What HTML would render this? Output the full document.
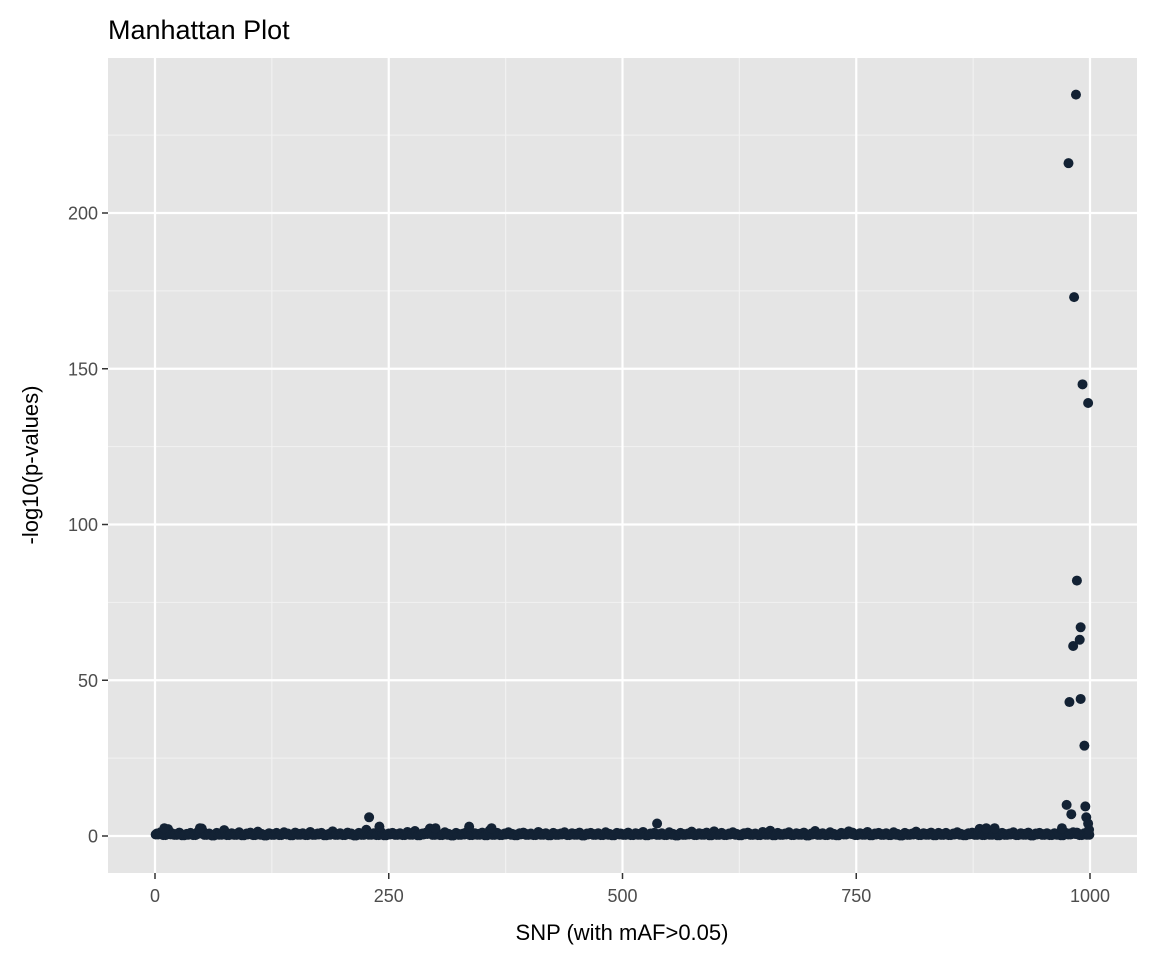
<!DOCTYPE html>
<html><head><meta charset="utf-8"><style>
body{margin:0;background:#fff;}
svg text{font-family:"Liberation Sans",Arial,sans-serif;}
</style></head><body>
<svg id="chart" width="1152" height="960" xmlns="http://www.w3.org/2000/svg">
<text x="108" y="39" font-size="27" fill="#000">Manhattan Plot</text>
<rect x="108" y="58" width="1029" height="815" fill="#e5e5e5"/>
<g id="grid"></g>
<g id="points"></g>
<g id="axes"></g>
<text x="622" y="940" font-size="22" text-anchor="middle" fill="#000">SNP (with mAF&gt;0.05)</text>
<text transform="translate(38,465) rotate(-90)" font-size="22" text-anchor="middle" fill="#000">-log10(p-values)</text>
</svg>
<script>
const xTicks=[0,250,500,750,1000];
const yTicks=[0,50,100,150,200];
const baseline=[0.8,1.2,0.5,2.2,0.9,0.6,1.1,0.4,0.7,1.0,0.5,1.3,2.4,0.6,0.8,0.3,1.0,0.7,1.9,0.5,0.9,0.6,1.2,0.4,0.8,1.1,0.5,1.4,0.7,0.3,
0.9,0.6,1.0,0.5,1.2,0.8,0.4,1.1,0.7,0.9,0.5,1.3,0.6,0.8,1.0,0.4,0.7,1.5,0.6,0.9,0.5,1.1,0.8,0.3,1.0,0.6,2.0,0.7,0.9,0.5,
1.2,0.4,0.8,1.0,0.6,0.9,0.5,1.3,0.7,1.6,0.4,0.8,1.1,2.4,0.6,0.9,0.5,1.2,0.7,0.3,1.0,0.6,0.8,1.4,0.5,0.9,0.7,1.1,0.4,1.8,
0.6,1.0,0.5,0.8,1.2,0.7,0.4,0.9,1.1,0.6,0.8,0.5,1.3,0.7,0.9,0.4,1.0,0.6,0.8,1.2,0.5,0.9,0.7,1.1,0.3,0.8,1.0,0.6,0.9,0.5,
1.2,0.7,0.4,1.0,0.8,0.6,1.1,0.5,0.9,0.7,1.3,0.4,0.8,1.0,0.6,0.9,0.5,1.2,0.7,0.3,1.0,0.6,0.8,1.4,0.5,0.9,0.7,1.1,0.4,1.5,
0.6,1.0,0.5,0.8,1.2,0.7,0.4,0.9,1.1,0.6,0.8,0.5,1.3,0.7,1.7,0.4,1.0,0.6,0.8,1.2,0.5,0.9,0.7,1.1,0.3,0.8,1.6,0.6,0.9,0.5,
1.2,0.7,0.4,1.0,0.8,1.5,1.1,0.5,0.9,0.7,1.3,0.4,0.8,1.0,0.6,0.9,0.5,1.2,0.7,0.3,1.0,0.6,0.8,1.4,0.5,0.9,0.7,1.1,0.4,1.0,
0.6,1.0,0.5,0.8,1.2,0.7,0.4,0.9,1.1,0.6,2.3,0.5,1.3,0.7,0.9,0.4,1.0,0.6,0.8,1.2,0.5,0.9,0.7,1.1,0.3,0.8,1.0,0.6,0.9,0.5,
0.9,0.7,0.4,1.0,0.8,1.2,1.1,0.5,0.9,0.7];
const baselineStart=2, baselineStep=4;
const peakX=[10,48,229,240,300,336,360,537,889,898,970,975,977,978,980,982,983,985,986,989,990,990,992,994,995,996,998,998,999];
const peakY=[2.5,2.5,6,3,2.5,3,2.5,4,2.5,2.5,2.5,10,216,43,7,61,173,238,82,63,67,44,145,29,9.5,6,139,4,2];
const NS='http://www.w3.org/2000/svg';
const L=108,R=1137,T=58,B=873;
const sx=v=>155+v*0.935;
const sy=v=>836-v*3.115;
function mk(tag,attrs,parent){const e=document.createElementNS(NS,tag);for(const k in attrs)e.setAttribute(k,attrs[k]);parent.appendChild(e);return e;}
const grid=document.getElementById('grid'),pts=document.getElementById('points'),axes=document.getElementById('axes');
for(let i=0;i<xTicks.length-1;i++){const m=(xTicks[i]+xTicks[i+1])/2;
 const g=mk('line',{x1:sx(m),x2:sx(m),y1:T,y2:B,stroke:'#f2f2f2','stroke-width':1.1},grid);
 
 }
for(let v=25;v<=225;v+=50){const g=mk('line',{x1:L,x2:R,y1:sy(v),y2:sy(v),stroke:'#f2f2f2','stroke-width':1.1},grid);
 
 }
xTicks.forEach(t=>{const g=mk('line',{x1:sx(t),x2:sx(t),y1:T,y2:B,stroke:'#fff','stroke-width':2.2},grid);
 
 
 mk('line',{x1:sx(t),x2:sx(t),y1:B,y2:B+6,stroke:'#333','stroke-width':1.5},axes);
 const tx=mk('text',{x:sx(t),y:B+29,'font-size':18,'text-anchor':'middle',fill:'#4d4d4d'},axes);tx.textContent=t;
 
 });
yTicks.forEach(t=>{const g=mk('line',{x1:L,x2:R,y1:sy(t),y2:sy(t),stroke:'#fff','stroke-width':2.2},grid);
 
 
 mk('line',{x1:L-6,x2:L,y1:sy(t),y2:sy(t),stroke:'#333','stroke-width':1.5},axes);
 const tx=mk('text',{x:L-10,y:sy(t)+6.5,'font-size':18,'text-anchor':'end',fill:'#4d4d4d'},axes);tx.textContent=t;
 
 });
baseline.forEach((v,i)=>{const x=baselineStart+i*baselineStep;
 for(let k=-1;k<=1;k++){const c=mk('circle',{cx:sx(x+k*1.3),cy:sy(v*(k===0?1:0.6)),r:5,fill:'#132234'},pts);
 
 }});
peakX.forEach((x,i)=>{const c=mk('circle',{cx:sx(x),cy:sy(peakY[i]),r:5,fill:'#132234'},pts);
 
 });
</script>
</body></html>
